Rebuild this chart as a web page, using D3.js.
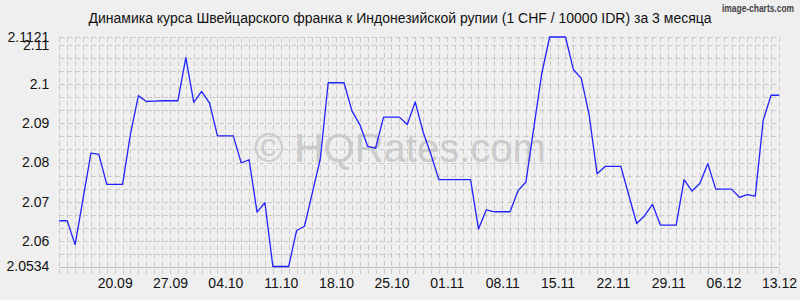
<!DOCTYPE html>
<html>
<head>
<meta charset="utf-8">
<script src="https://cdn.jsdelivr.net/npm/d3@7"></script>
<style>
  body { margin: 0; background: #efefef; }
  svg { display: block; }
  text { font-family: "Liberation Sans", Arial, sans-serif; }
</style>
</head>
<body>
<div id="chart"></div>
<script>
var title = "Динамика курса Швейцарского франка к Индонезийской рупии (1 CHF / 10000 IDR) за 3 месяца";
var firstDay = "13.09.2023", lastDay = "13.12.2023";
// one value per day, 13.09 .. 13.12
var rates = [
  2.0651, 2.0651, 2.0590, 2.0707, 2.0824, 2.0821, 2.0744, 2.0744, 2.0744, 2.0873,
  2.0971, 2.0956, 2.0957, 2.0958, 2.0958, 2.0958, 2.1068, 2.0954, 2.0982, 2.0952,
  2.0868, 2.0868, 2.0868, 2.0799, 2.0807, 2.0673, 2.0697, 2.0534, 2.0534, 2.0534,
  2.0626, 2.0637, 2.0723, 2.0809, 2.1004, 2.1004, 2.1004, 2.0932, 2.0897, 2.0841,
  2.0837, 2.0916, 2.0916, 2.0916, 2.0897, 2.0955, 2.0878, 2.0820, 2.0756, 2.0756,
  2.0756, 2.0756, 2.0756, 2.0630, 2.0679, 2.0674, 2.0674, 2.0674, 2.0728, 2.0750,
  2.0889, 2.1027, 2.1121, 2.1121, 2.1121, 2.1038, 2.1015, 2.0921, 2.0771, 2.0790,
  2.0790, 2.0790, 2.0717, 2.0644, 2.0664, 2.0693, 2.0640, 2.0640, 2.0640, 2.0756,
  2.0727, 2.0747, 2.0797, 2.0732, 2.0732, 2.0732, 2.0711, 2.0718, 2.0714, 2.0908,
  2.0972, 2.0972
];
var tickLabels = ["20.09", "27.09", "04.10", "11.10", "18.10", "25.10", "01.11",
                  "08.11", "15.11", "22.11", "29.11", "06.12", "13.12"];
var yTicks = [2.0534, 2.06, 2.07, 2.08, 2.09, 2.1, 2.11, 2.1121];

var width = 800, height = 300;
var margin = { top: 37, right: 21, bottom: 33.5, left: 59.3 };

var parseDay = d3.timeParse("%d.%m.%Y");
var days = d3.timeDay.range(parseDay(firstDay), d3.timeDay.offset(parseDay(lastDay), 1));
var data = days.map(function(d, i) { return { x: d, y: rates[i] }; });

var svg = d3.select('#chart').append('svg')
            .attr('width', width)
            .attr('height', height);

var x = d3.scaleTime()
          .domain(d3.extent(days))
          .range([margin.left, width - margin.right]);
var y = d3.scaleLinear()
          .domain([yTicks[0], yTicks[yTicks.length - 1]])
          .range([height - margin.bottom, margin.top]);

// grid: one dashed column per day, rows every 1/3 of 0.01
var grid = svg.append('g').attr('stroke', '#cacaca').attr('stroke-width', 1)
              .attr('stroke-dasharray', '5,3').attr('fill', 'none');
grid.selectAll('line.v').data(days).enter().append('line')
    .attr('class', 'v')
    .attr('x1', function(d) { return Math.round(x(d)) + 0.5; })
    .attr('x2', function(d) { return Math.round(x(d)) + 0.5; })
    .attr('y1', margin.top)
    .attr('y2', height - margin.bottom + 9);
var rows = d3.range(-1, 16).map(function(k) { return 2.06 + k * 0.01 / 3; });
rows.push(yTicks[yTicks.length - 1]);
grid.selectAll('line.h').data(rows).enter().append('line')
    .attr('class', 'h')
    .attr('x1', margin.left)
    .attr('x2', width - margin.right)
    .attr('y1', function(d) { return Math.round(y(d)) + 0.5; })
    .attr('y2', function(d) { return Math.round(y(d)) + 0.5; });
svg.append('line')
   .attr('x1', margin.left).attr('x2', width - margin.right)
   .attr('y1', Math.round(y(yTicks[0])) + 0.5).attr('y2', Math.round(y(yTicks[0])) + 0.5)
   .attr('stroke', '#c0c0c0');

// watermark
svg.append('text')
   .attr('x', 400).attr('y', 162)
   .attr('text-anchor', 'middle')
   .attr('font-size', 40)
   .attr('fill', '#c6c6c6')
   .attr('fill-opacity', 0.85)
   .text('© HQRates.com');

// axes
var yAxis = d3.axisLeft(y).tickValues(yTicks).tickSize(0).tickPadding(10)
              .tickFormat(function(d) { return String(d); });
var axisY = svg.append('g')
   .attr('transform', 'translate(' + margin.left + ',0)')
   .call(yAxis);
axisY.select('.domain').remove();
axisY.selectAll('text').attr('font-size', 14).attr('fill', '#111')
     .attr('font-family', '"Liberation Sans", Arial, sans-serif');

var tickDates = tickLabels.map(function(t) { return parseDay(t + '.2023'); });
var xAxis = d3.axisBottom(x).tickValues(tickDates).tickSize(0).tickPadding(0)
              .tickFormat(d3.timeFormat('%d.%m'));
var axisX = svg.append('g')
   .attr('transform', 'translate(0,' + (height - margin.bottom) + ')')
   .call(xAxis);
axisX.select('.domain').remove();
axisX.selectAll('text').attr('font-size', 14).attr('fill', '#111')
     .attr('font-family', '"Liberation Sans", Arial, sans-serif')
     .attr('dy', '1.5em');

// series
var line = d3.line()
             .x(function(d) { return x(d.x); })
             .y(function(d) { return y(d.y); });
svg.append('path')
   .datum(data)
   .attr('fill', 'none')
   .attr('stroke', '#2222ff')
   .attr('stroke-width', 1.3)
   .attr('stroke-linejoin', 'round')
   .attr('d', line);

// title and credit
svg.append('text')
   .attr('x', 400).attr('y', 23)
   .attr('text-anchor', 'middle')
   .attr('font-size', 14)
   .attr('fill', '#111')
   .text(title);
svg.append('text')
   .attr('x', 794).attr('y', 12)
   .attr('text-anchor', 'end')
   .attr('font-size', 10)
   .attr('font-family', '"DejaVu Sans Condensed", "DejaVu Sans", sans-serif')
   .attr('font-weight', 'bold')
   .attr('fill', '#444')
   .attr('textLength', 72)
   .attr('lengthAdjust', 'spacingAndGlyphs')
   .text('image-charts.com');
</script>
</body>
</html>
